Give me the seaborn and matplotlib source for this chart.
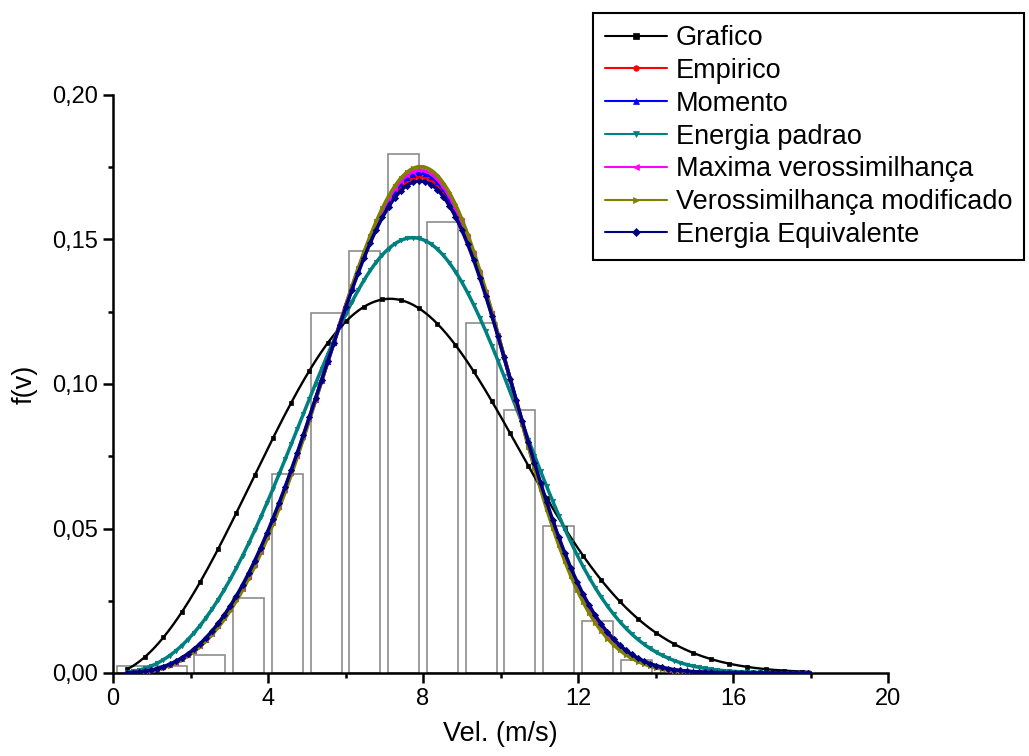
import numpy as np
import pandas as pd
import matplotlib
matplotlib.use("Agg")
import matplotlib.pyplot as plt
from matplotlib.ticker import MultipleLocator, FuncFormatter
import seaborn as sns

# ---- data ----
bin_centers = [0.5, 1.5, 2.5, 3.5, 4.5, 5.5, 6.5, 7.5, 8.5, 9.5, 10.5, 11.5, 12.5, 13.5]
bin_heights = [0.0025, 0.0025, 0.0062, 0.026, 0.069, 0.1246, 0.146, 0.1796, 0.156,
               0.121, 0.091, 0.051, 0.018, 0.0045]

methods = ["Grafico", "Empirico", "Momento", "Energia padrao",
           "Maxima verossimilhança", "Verossimilhança modificado", "Energia Equivalente"]
shape_k = [2.75, 3.85, 3.88, 3.35, 3.90, 3.93, 3.82]
scale_c = [8.43, 8.56, 8.56, 8.60, 8.55, 8.55, 8.57]
colors = ["#000000", "#ff0000", "#0000ff", "#008080", "#ff00ff", "#808000", "#000080"]
markers = ["s", "o", "^", "v", "<", ">", "D"]

v_start, v_end = 0.36, 18.0

# ---- style ----
sns.set_style("ticks")
plt.rcParams["font.family"] = ["Liberation Sans", "DejaVu Sans"]
plt.rcParams["text.color"] = "black"
plt.rcParams["axes.labelcolor"] = "black"
plt.rcParams["xtick.color"] = "black"
plt.rcParams["ytick.color"] = "black"

fig = plt.figure(figsize=(10.29, 7.56), dpi=100)
ax = fig.add_axes([113 / 1029, 1 - 673 / 756, (888 - 113) / 1029, (673 - 95) / 756])

sns.barplot(x=bin_centers, y=bin_heights, native_scale=True, width=0.8,
            color="white", edgecolor="#8c8c8c", linewidth=1.2, ax=ax, zorder=1)

v = np.linspace(v_start, v_end, 900)
rows = []
for name, k, c in zip(methods, shape_k, scale_c):
    f = (k / c) * (v / c) ** (k - 1) * np.exp(-(v / c) ** k)
    rows.append(pd.DataFrame({"v": v, "f": f, "method": name}))
df = pd.concat(rows, ignore_index=True)

for name, col, mk in zip(methods, colors, markers):
    sub = df[df["method"] == name]
    thick = name != "Grafico"
    sns.lineplot(data=sub, x="v", y="f", color=col, marker=mk,
                 markersize=3.2 if thick else 2.2, markeredgewidth=0.5,
                 markeredgecolor=col, markerfacecolor=col,
                 markevery=8 if thick else 24, linewidth=2.5 if thick else 1.7,
                 label=name, ax=ax, zorder=3, sort=False)

if ax.get_legend() is not None:
    ax.get_legend().remove()

ax.set_xlim(0, 20)
ax.set_ylim(0, 0.20)
ax.xaxis.set_major_locator(MultipleLocator(4))
ax.xaxis.set_minor_locator(MultipleLocator(2))
ax.yaxis.set_major_locator(MultipleLocator(0.05))
ax.yaxis.set_minor_locator(MultipleLocator(0.025))
ax.xaxis.set_major_formatter(FuncFormatter(lambda x, p: f"{x:.0f}"))
ax.yaxis.set_major_formatter(FuncFormatter(lambda y, p: f"{y:.2f}".replace(".", ",")))

for s in ["top", "right"]:
    ax.spines[s].set_visible(False)
for s in ["left", "bottom"]:
    ax.spines[s].set_linewidth(1.8)
    ax.spines[s].set_color("black")

ax.tick_params(which="major", direction="out", length=7, width=1.8,
               labelsize=17, colors="black", pad=4)
ax.tick_params(which="minor", direction="out", length=3.5, width=1.8, colors="black")

ax.set_xlabel("Vel. (m/s)", fontsize=19.5, labelpad=8, color="black")
ax.set_ylabel("f(v)", fontsize=19.5, labelpad=10, color="black")

handles, labels = ax.get_legend_handles_labels()
leg = fig.legend(handles, labels, loc="upper left",
                 bbox_to_anchor=(593 / 1029, 1 - 13 / 756),
                 bbox_transform=fig.transFigure, borderaxespad=0,
                 fontsize=19.5, frameon=True, fancybox=False, framealpha=1,
                 edgecolor="black", handlelength=2.3, handletextpad=0.3,
                 labelspacing=0.25, borderpad=0.45, numpoints=1)
leg.get_frame().set_linewidth(1.5)
for h in leg.legend_handles:
    h.set_linewidth(1.5)
    h.set_markersize(4)
for t in leg.get_texts():
    t.set_color("black")

fig.savefig("out.png", dpi=100)
